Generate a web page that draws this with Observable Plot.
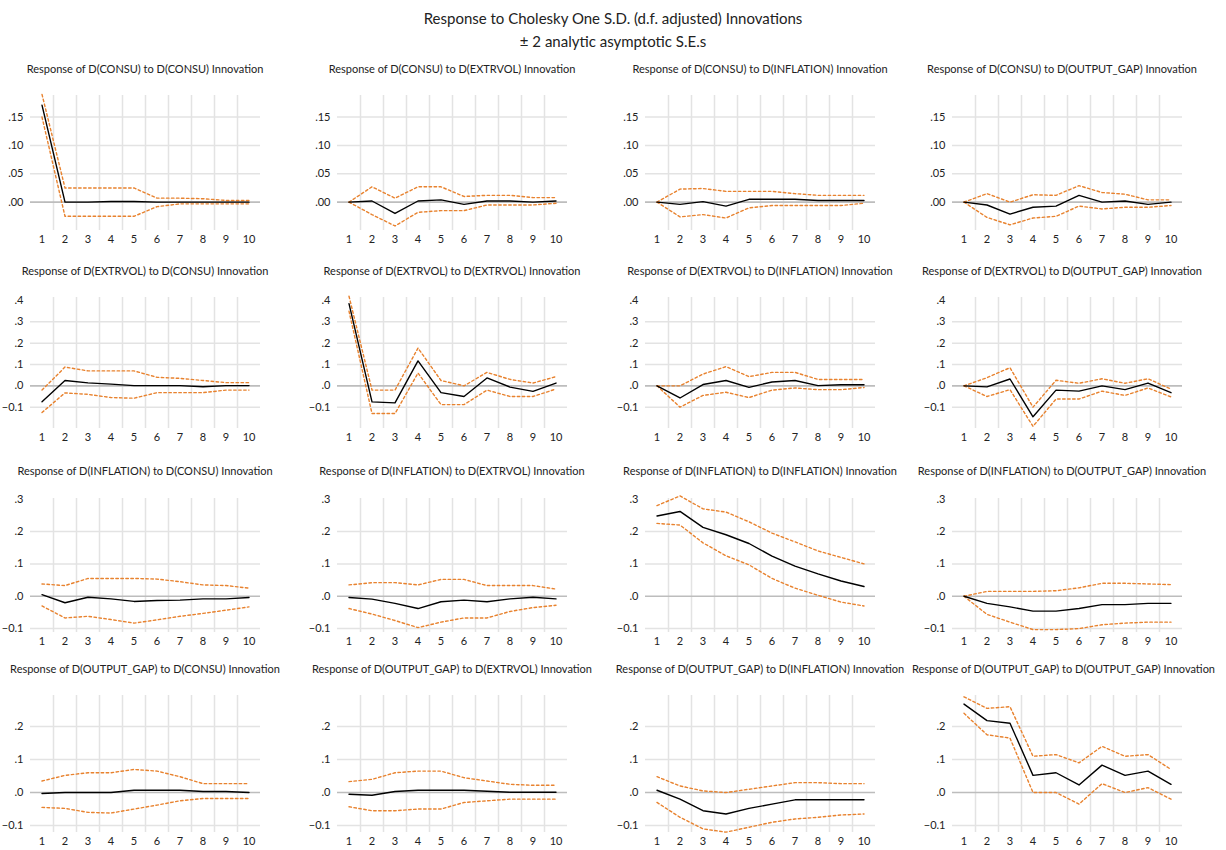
<!DOCTYPE html>
<html>
<head>
<meta charset="utf-8">
<script src="https://cdn.jsdelivr.net/npm/d3@7"></script>
<script src="https://cdn.jsdelivr.net/npm/@observablehq/plot@0.6"></script>
<style>
  html, body { margin: 0; padding: 0; background: #fff; }
  #root { position: relative; width: 1226px; height: 850px; font-family: Lato, "Open Sans", sans-serif; color: #222; }
  .main { position: absolute; left: 0; width: 1226px; text-align: center; font-size: 15px; }
  .ptitle { position: absolute; width: 300px; text-align: center; font-size: 11px; white-space: nowrap; }
  .pl { position: absolute; }
</style>
</head>
<body>
<div id="root"></div>
<script>
// ---------- data ----------
const steps = [1, 2, 3, 4, 5, 6, 7, 8, 9, 10];
const variables = ["CONSU", "EXTRVOL", "INFLATION", "OUTPUT_GAP"];
const mainTitle = "Response to Cholesky One S.D. (d.f. adjusted) Innovations";
const subTitle = "\u00B1 2 analytic asymptotic S.E.s";

// Each array: one row per shock (CONSU, EXTRVOL, INFLATION, OUTPUT_GAP)
const irfConsu = [
  [0.171, 0, 0, 0.001, 0.001, 0, 0, 0, 0, 0],
  [0, 0.002, -0.02, 0.002, 0.004, -0.004, 0.002, 0.002, 0, 0.002],
  [0, -0.004, 0.001, -0.007, 0.005, 0.005, 0.005, 0.003, 0.003, 0.003],
  [0, -0.005, -0.021, -0.009, -0.007, 0.012, 0, 0.002, -0.004, 0]
];
const upperConsu = [
  [0.19, 0.025, 0.025, 0.025, 0.025, 0.007, 0.007, 0.006, 0.003, 0.003],
  [0, 0.027, 0.007, 0.027, 0.027, 0.01, 0.012, 0.012, 0.008, 0.008],
  [0, 0.023, 0.024, 0.019, 0.019, 0.019, 0.015, 0.012, 0.012, 0.012],
  [0, 0.015, 0.0, 0.013, 0.012, 0.029, 0.017, 0.014, 0.004, 0.004]
];
const lowerConsu = [
  [0.15, -0.025, -0.025, -0.025, -0.025, -0.008, -0.003, -0.003, -0.003, -0.003],
  [0, -0.022, -0.042, -0.018, -0.015, -0.015, -0.005, -0.005, -0.005, -0.002],
  [0, -0.026, -0.022, -0.028, -0.01, -0.006, -0.006, -0.006, -0.006, -0.002],
  [0, -0.027, -0.04, -0.028, -0.025, -0.007, -0.012, -0.009, -0.009, -0.006]
];

const irfExtrvol = [
  [-0.075, 0.025, 0.014, 0.008, 0.001, 0.001, 0.001, -0.004, 0.001, 0.001],
  [0.385, -0.075, -0.08, 0.117, -0.032, -0.05, 0.037, -0.006, -0.026, 0.013],
  [0, -0.057, 0.006, 0.025, -0.007, 0.018, 0.025, 0.001, 0.005, 0.005],
  [0, -0.005, 0.032, -0.145, -0.02, -0.025, 0, -0.018, 0.013, -0.032]
];
const upperExtrvol = [
  [-0.02, 0.088, 0.07, 0.07, 0.07, 0.04, 0.035, 0.025, 0.015, 0.015],
  [0.42, -0.02, -0.02, 0.177, 0.025, 0.0, 0.063, 0.03, 0.013, 0.043],
  [0, 0.0, 0.055, 0.09, 0.043, 0.063, 0.063, 0.03, 0.03, 0.03],
  [0, 0.038, 0.085, -0.1, 0.026, 0.012, 0.033, 0.012, 0.033, -0.015]
];
const lowerExtrvol = [
  [-0.125, -0.033, -0.04, -0.055, -0.058, -0.032, -0.032, -0.032, -0.02, -0.02],
  [0.35, -0.13, -0.13, 0.06, -0.088, -0.088, -0.02, -0.05, -0.05, -0.015],
  [0, -0.1, -0.045, -0.03, -0.055, -0.02, -0.01, -0.018, -0.018, -0.008],
  [0, -0.05, -0.018, -0.19, -0.062, -0.062, -0.025, -0.045, -0.01, -0.052]
];

const irfInflation = [
  [0.005, -0.02, -0.003, -0.008, -0.016, -0.013, -0.012, -0.008, -0.008, -0.004],
  [-0.004, -0.009, -0.022, -0.038, -0.017, -0.012, -0.017, -0.008, -0.003, -0.008],
  [0.248, 0.262, 0.213, 0.19, 0.163, 0.124, 0.093, 0.069, 0.047, 0.03],
  [0, -0.022, -0.033, -0.046, -0.046, -0.038, -0.026, -0.026, -0.022, -0.022]
];
const upperInflation = [
  [0.038, 0.033, 0.055, 0.055, 0.055, 0.053, 0.045, 0.035, 0.033, 0.025],
  [0.035, 0.042, 0.042, 0.035, 0.052, 0.052, 0.033, 0.033, 0.033, 0.022],
  [0.28, 0.31, 0.27, 0.26, 0.23, 0.195, 0.168, 0.14, 0.12, 0.1],
  [0, 0.015, 0.015, 0.015, 0.017, 0.026, 0.04, 0.04, 0.038, 0.036]
];
const lowerInflation = [
  [-0.03, -0.067, -0.062, -0.072, -0.083, -0.073, -0.062, -0.053, -0.043, -0.033],
  [-0.038, -0.055, -0.075, -0.097, -0.08, -0.067, -0.067, -0.047, -0.035, -0.028],
  [0.225, 0.22, 0.165, 0.125, 0.097, 0.055, 0.025, 0.003, -0.018, -0.03],
  [0, -0.056, -0.08, -0.103, -0.103, -0.1, -0.088, -0.083, -0.08, -0.08]
];

const irfOutputGap = [
  [-0.003, 0, 0, 0, 0.007, 0.007, 0.007, 0.003, 0.003, 0],
  [-0.005, -0.008, 0.003, 0.007, 0.007, 0.007, 0.004, 0.001, 0.001, 0.001],
  [0.007, -0.02, -0.055, -0.065, -0.048, -0.035, -0.022, -0.022, -0.022, -0.022],
  [0.268, 0.218, 0.21, 0.052, 0.06, 0.023, 0.083, 0.052, 0.065, 0.025]
];
const upperOutputGap = [
  [0.035, 0.052, 0.06, 0.06, 0.07, 0.065, 0.048, 0.027, 0.027, 0.027],
  [0.033, 0.04, 0.06, 0.065, 0.065, 0.045, 0.035, 0.025, 0.022, 0.022],
  [0.048, 0.02, 0.005, 0, 0.01, 0.02, 0.03, 0.03, 0.027, 0.027],
  [0.29, 0.255, 0.26, 0.11, 0.115, 0.09, 0.14, 0.11, 0.115, 0.07]
];
const lowerOutputGap = [
  [-0.045, -0.048, -0.06, -0.062, -0.05, -0.038, -0.025, -0.018, -0.018, -0.018],
  [-0.043, -0.055, -0.055, -0.05, -0.05, -0.03, -0.025, -0.02, -0.02, -0.02],
  [-0.03, -0.075, -0.11, -0.12, -0.105, -0.09, -0.08, -0.075, -0.068, -0.065],
  [0.24, 0.175, 0.165, 0.0, 0.0, -0.035, 0.027, 0.0, 0.015, -0.02]
];

// y axis per row (response variable)
const yDomains = [[-0.05, 0.188], [-0.2, 0.414], [-0.112, 0.302], [-0.121, 0.294]];
const yTicks = [[0, 0.05, 0.10, 0.15], [-0.1, 0, 0.1, 0.2, 0.3, 0.4], [-0.1, 0, 0.1, 0.2, 0.3], [-0.1, 0, 0.1, 0.2]];
const yGrid = [[0.05, 0.10, 0.15], [-0.1, 0.1, 0.2, 0.3], [-0.1, 0.1, 0.2], [-0.1, 0.1, 0.2]];
const yDecimals = [2, 1, 1, 1];

// ---------- layout ----------
const rowsIrf = [irfConsu, irfExtrvol, irfInflation, irfOutputGap];
const rowsUp = [upperConsu, upperExtrvol, upperInflation, upperOutputGap];
const rowsLo = [lowerConsu, lowerExtrvol, lowerInflation, lowerOutputGap];

const colLeft = [0, 307, 615, 922];
const plotTop = [95, 297, 498, 695];
const plotBottom = [230, 428, 632, 832];
const titleY = [62, 264, 464, 662];
const mL = 30, mR = 40, mT = 5, mB = 22, W = 300;
const orange = "#e8822e";
const grid = "#e3e3e3";

const root = document.getElementById("root");
function addDiv(cls, text, left, top) {
  const d = document.createElement("div");
  d.className = cls; d.textContent = text;
  if (left != null) d.style.left = left + "px";
  d.style.top = top + "px";
  root.appendChild(d);
}
addDiv("main", mainTitle, 0, 9);
addDiv("main", subTitle, 0, 32);

const stripZero = s => s.replace(/^(-?)0\./, "$1.");
const gridX = steps.slice(0, -1).map(d => d + 0.5);

for (let r = 0; r < 4; r++) {
  for (let c = 0; c < 4; c++) {
    const toRows = arr => steps.map((s, i) => ({step: s, v: arr[i]}));
    const irf = toRows(rowsIrf[r][c]);
    const up = toRows(rowsUp[r][c]);
    const lo = toRows(rowsLo[r][c]);
    const fmt = d3.format("." + yDecimals[r] + "f");
    const h = plotBottom[r] - plotTop[r] + mT + mB;
    const chart = Plot.plot({
      width: W, height: h,
      marginLeft: mL, marginRight: mR, marginTop: mT, marginBottom: mB,
      style: {fontFamily: "Lato, 'Open Sans', sans-serif", fontSize: "11px", color: "#222", background: "transparent", overflow: "visible"},
      x: {domain: [0.5, 10.5], ticks: steps, tickFormat: d => String(d), tickSize: 0, tickPadding: 5, label: null},
      y: {domain: yDomains[r], ticks: yTicks[r], tickFormat: d => stripZero(fmt(d)), tickSize: 0, tickPadding: 7, label: null},
      marks: [
        Plot.ruleX(gridX, {stroke: grid, strokeWidth: 1.5}),
        Plot.ruleY(yGrid[r], {stroke: grid, strokeWidth: 1.5}),
        Plot.ruleY([0], {stroke: "#bdbdbd", strokeWidth: 1.6}),
        Plot.line(up, {x: "step", y: "v", stroke: orange, strokeWidth: 1.4, strokeDasharray: "2.5,2.5"}),
        Plot.line(lo, {x: "step", y: "v", stroke: orange, strokeWidth: 1.4, strokeDasharray: "2.5,2.5"}),
        Plot.line(irf, {x: "step", y: "v", stroke: "#000", strokeWidth: 1.4})
      ]
    });
    chart.classList.add("pl");
    chart.style.left = colLeft[c] + "px";
    chart.style.top = (plotTop[r] - mT) + "px";
    root.appendChild(chart);
    addDiv("ptitle", "Response of D(" + variables[r] + ") to D(" + variables[c] + ") Innovation", colLeft[c] + mL + 115 - W / 2 - (c === 3 ? 5 : 0), titleY[r]);
  }
}
</script>
</body>
</html>
